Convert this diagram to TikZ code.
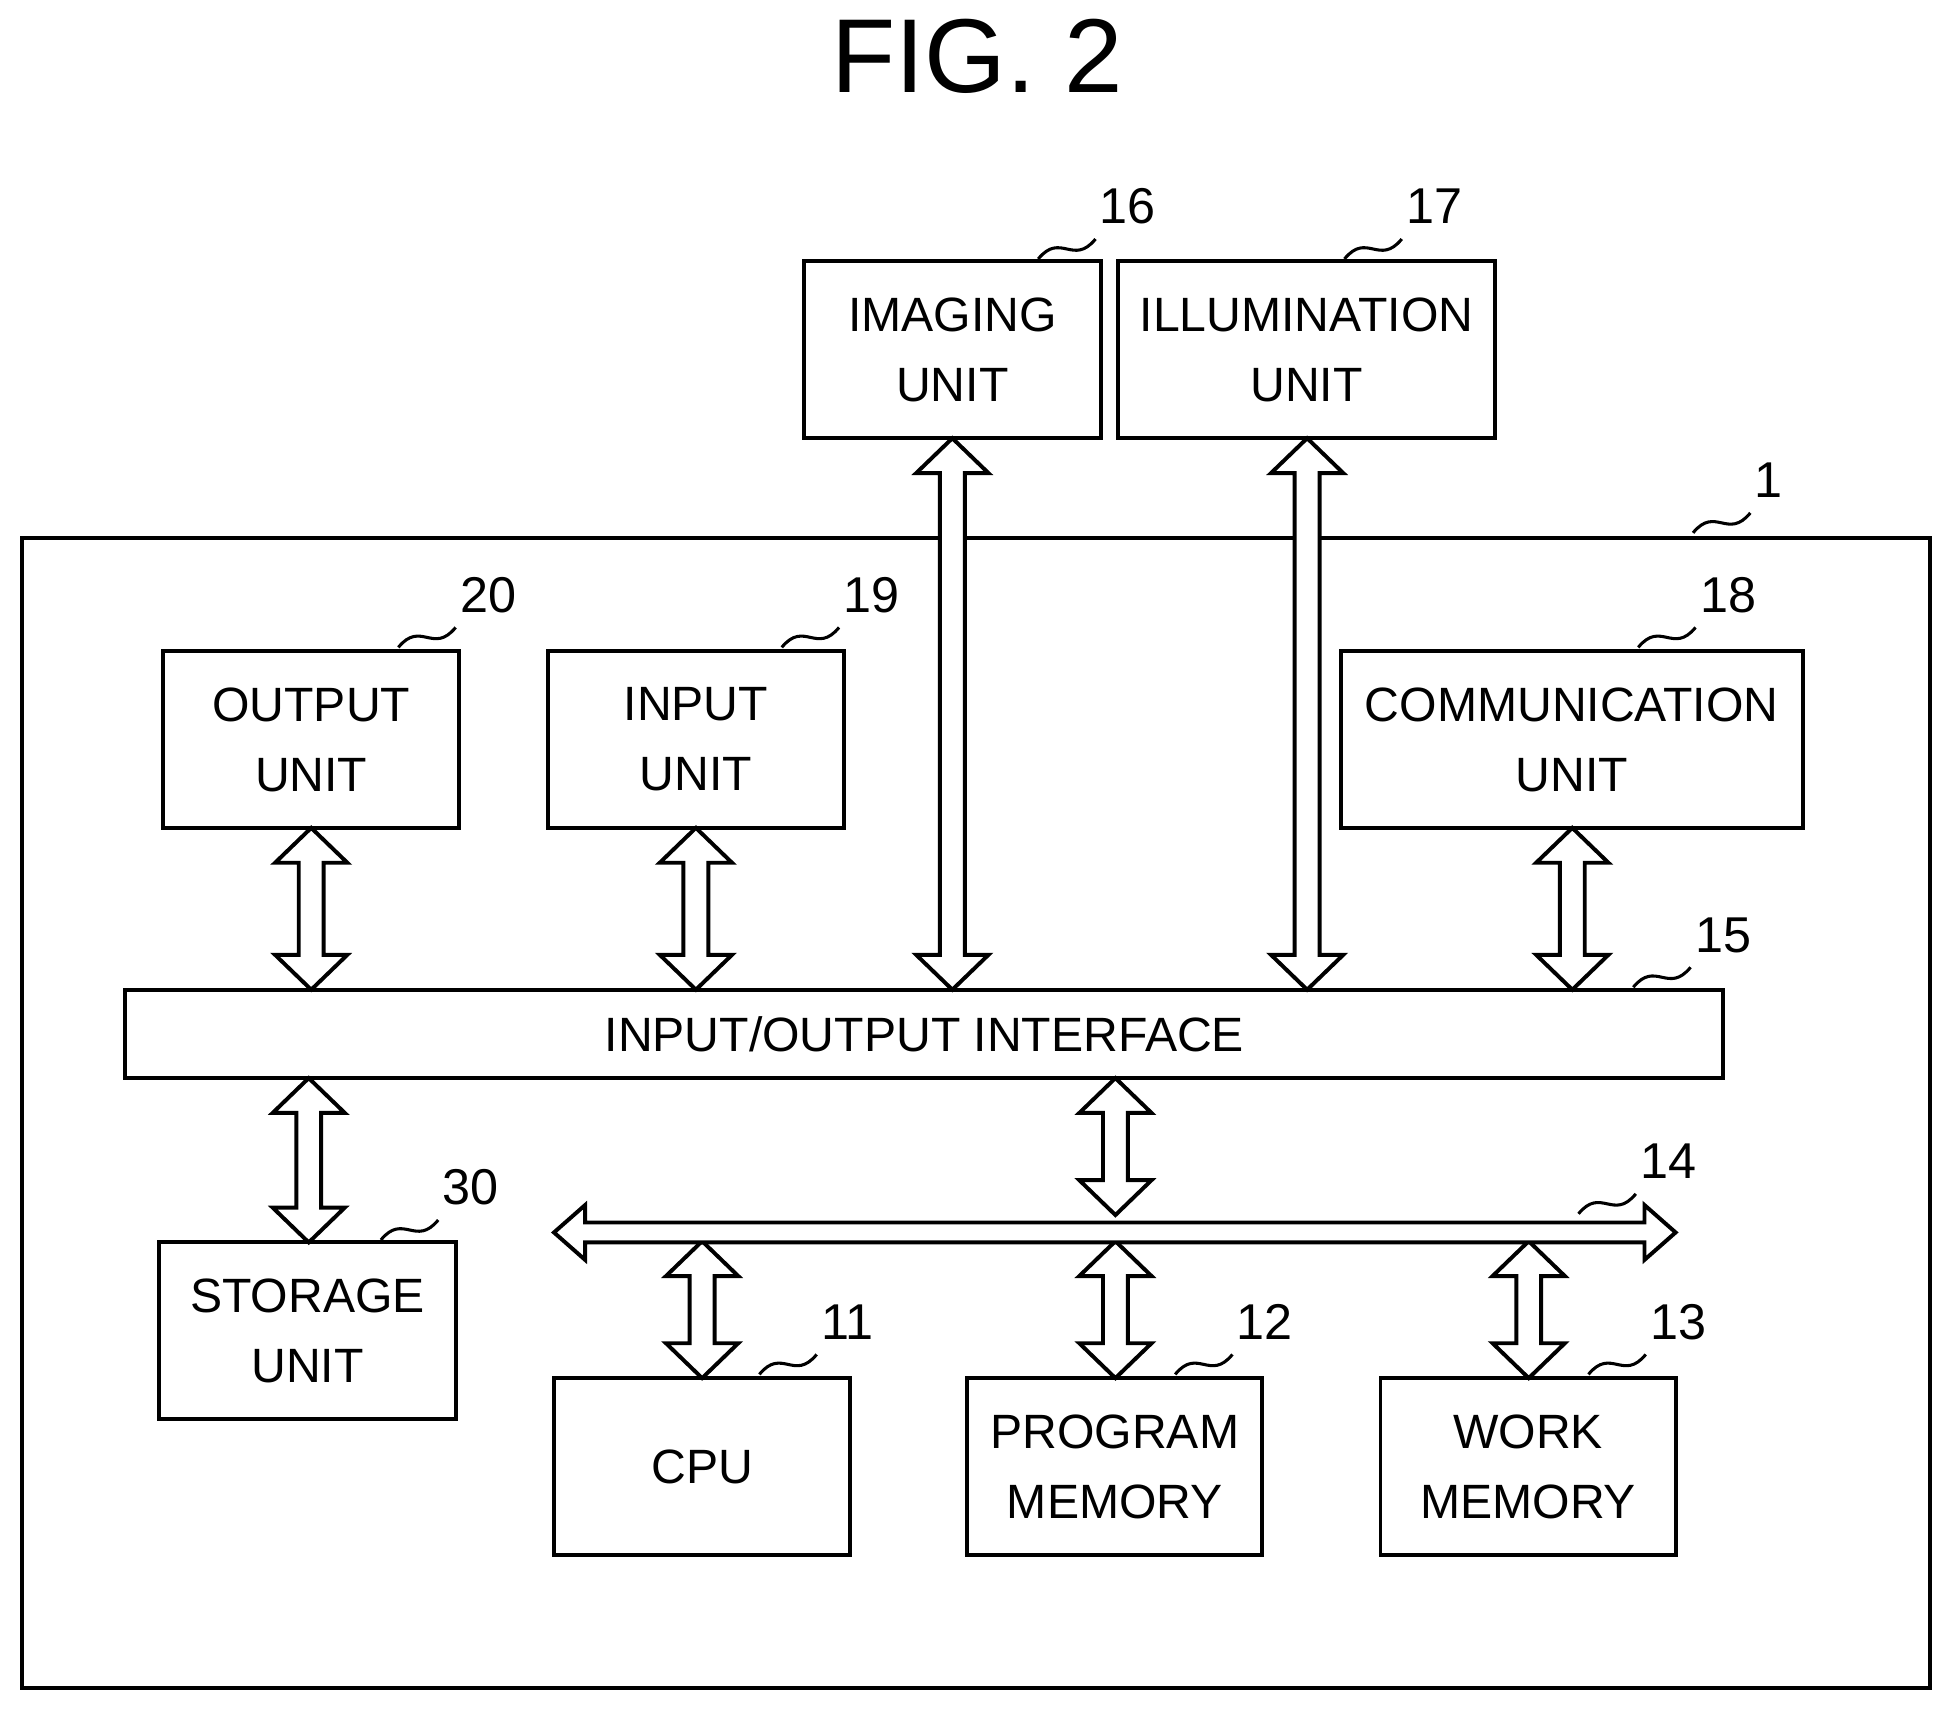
\documentclass[tikz,border=0pt]{standalone}
\usepackage{fontspec}
\setmainfont{Liberation Sans}
\begin{document}
\begin{tikzpicture}[x=0.01cm,y=-0.01cm,line width=0.9pt,
  box/.style={draw,align=center,font=\fontsize{11}{16}\selectfont,inner sep=0pt},
  num/.style={anchor=west,font=\fontsize{11.5}{14}\selectfont,inner sep=0pt}]
\useasboundingbox (0,0) rectangle (1568,1375);
\newcommand\dv[3]{\draw[fill=white] (#1,#2) -- (#1+29,#2+28) -- (#1+10,#2+28) -- (#1+10,#3-28) -- (#1+29,#3-28) -- (#1,#3) -- (#1-29,#3-28) -- (#1-10,#3-28) -- (#1-10,#2+28) -- (#1-29,#2+28) -- cycle;}
\newcommand\sq[3]{\draw[line width=0.7pt] (#1,#2) .. controls (#1+18,#2-22) and (#1+28,#2+6) .. (#1+46,#2-16);
  \node[num] at (#1+48,#2-42) {#3};}
\node[font=\fontsize{24}{28}\selectfont] (title) at (785,45) {FIG. 2};
\draw (18,432) rectangle (1550,1356);
\node[box,minimum width=2.38cm,minimum height=1.42cm] (img) at (765,281) {IMAGING\\UNIT};
\node[box,minimum width=3.03cm,minimum height=1.42cm] (ill) at (1049.5,281) {ILLUMINATION\\UNIT};
\node[box,minimum width=2.38cm,minimum height=1.42cm] (out) at (250,594) {OUTPUT\\UNIT};
\node[box,minimum width=2.38cm,minimum height=1.42cm] (in) at (559,594) {INPUT\\UNIT};
\node[box,minimum width=3.71cm,minimum height=1.42cm] (com) at (1262.5,594) {COMMUNICATION\\UNIT};
\node[box,minimum width=12.83cm,minimum height=0.71cm] (io) at (742.5,830.5) {INPUT/OUTPUT INTERFACE};
\node[box,minimum width=2.38cm,minimum height=1.42cm] (sto) at (247,1069) {STORAGE\\UNIT};
\node[box,minimum width=2.38cm,minimum height=1.42cm] (cpu) at (564,1178) {CPU};
\node[box,minimum width=2.37cm,minimum height=1.42cm] (pm) at (895.5,1178) {PROGRAM\\MEMORY};
\node[box,minimum width=2.37cm,minimum height=1.42cm] (wm) at (1227.5,1178) {WORK\\MEMORY};
\dv{765}{352}{795}
\dv{1050}{352}{795}
\dv{250}{665}{795}
\dv{559}{665}{795}
\dv{1263}{665}{795}
\dv{248}{866}{998}
\dv{896}{866}{976}
\dv{564}{997}{1107}
\dv{896}{997}{1107}
\dv{1228}{997}{1107}
\draw[fill=white] (445,990) -- (470,968) -- (470,982) -- (1321,982) -- (1321,968) -- (1346,990) -- (1321,1012) -- (1321,998) -- (470,998) -- (470,1012) -- cycle;
\sq{834}{208}{16}
\sq{1080}{208}{17}
\sq{1360}{428}{1}
\sq{320}{520}{20}
\sq{628}{520}{19}
\sq{1316}{520}{18}
\sq{1312}{793}{15}
\sq{306}{996}{30}
\sq{1268}{975}{14}
\sq{610}{1104}{11}
\sq{944}{1104}{12}
\sq{1276}{1104}{13}
\end{tikzpicture}
\end{document}
